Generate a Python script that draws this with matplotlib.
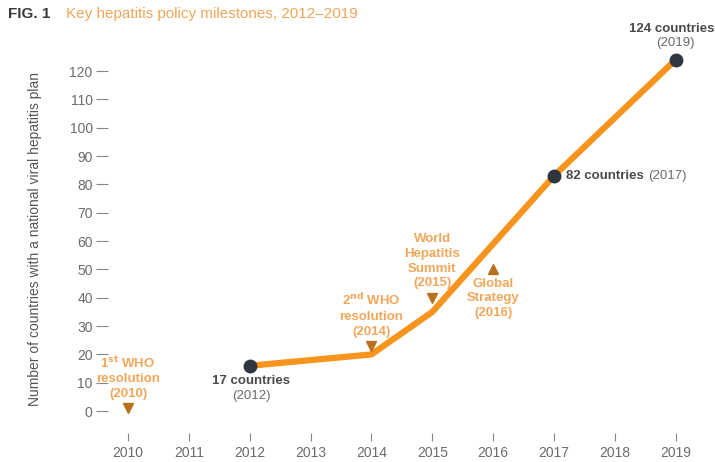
import matplotlib.pyplot as plt

plt.rcParams["font.family"] = ["Liberation Sans", "DejaVu Sans"]

# axis categories
tick_years = [2010, 2011, 2012, 2013, 2014, 2015, 2016, 2017, 2018, 2019]
y_ticks = [0, 10, 20, 30, 40, 50, 60, 70, 80, 90, 100, 110, 120]

# countries with a national plan
plan_years = [2012, 2014, 2015, 2017, 2019]
plan_countries = [16, 20, 35, 83, 124]

# highlighted data points
dot_years = [2012, 2017, 2019]
dot_countries = [16, 83, 124]
dot_bold = ["17 countries", "82 countries", "124 countries"]
dot_year_labels = ["(2012)", "(2017)", "(2019)"]

# policy milestones
milestone_years = [2010, 2014, 2015, 2016]
milestone_levels = [1, 23, 40, 50]
milestone_labels = [
    "1$^{\\mathbf{st}}$ WHO\nresolution\n(2010)",
    "2$^{\\mathbf{nd}}$ WHO\nresolution\n(2014)",
    "World\nHepatitis\nSummit\n(2015)",
    "Global\nStrategy\n(2016)",
]
milestone_up = [False, False, False, True]

ORANGE = "#F7941D"
TEXT_ORANGE = "#F2A65A"
TRI = "#B8711E"
DOT = "#2F3640"
GRAY = "#6B6B6B"

fig = plt.figure(figsize=(7.15, 4.62), dpi=100)
ax = fig.add_axes([108 / 715, 1 - 425 / 462, (700 - 108) / 715, (425 - 20) / 462])

ax.plot(plan_years, plan_countries, color=ORANGE, lw=4.5, solid_capstyle="butt",
        solid_joinstyle="miter", zorder=2)
ax.plot(dot_years, dot_countries, "o", color=DOT, ms=9, zorder=3)

for yr, lvl, lab, up in zip(milestone_years, milestone_levels, milestone_labels, milestone_up):
    ax.plot(yr, lvl, "^" if up else "v", color=TRI, ms=7, zorder=3)
    ax.annotate(lab, xy=(yr, lvl), xytext=(0, -6 if up else 6), textcoords="offset points",
                ha="center", va="top" if up else "bottom", color=TEXT_ORANGE,
                fontsize=9.5, fontweight="bold", linespacing=1.3)

# 2012
a = ax.annotate(dot_bold[0], xy=(dot_years[0], dot_countries[0]), xytext=(1, -7),
                textcoords="offset points", ha="center", va="top", color="#4A4A4A",
                fontsize=9.5, fontweight="bold")
ax.annotate(dot_year_labels[0], xy=(0.5, 0), xycoords=a, xytext=(0, -2),
            textcoords="offset points", ha="center", va="top", color=GRAY, fontsize=9.5)
# 2017
a = ax.annotate(dot_bold[1], xy=(dot_years[1], dot_countries[1]), xytext=(9, 0),
                textcoords="offset points", ha="left", va="center", color="#4A4A4A",
                fontsize=9.5, fontweight="bold")
ax.annotate(dot_year_labels[1], xy=(1, 0.5), xycoords=a, xytext=(3, 0),
            textcoords="offset points", ha="left", va="center", color=GRAY, fontsize=9.5)
# 2019
a = ax.annotate(dot_year_labels[2], xy=(dot_years[2], dot_countries[2]), xytext=(0, 8),
                textcoords="offset points", ha="center", va="bottom", color=GRAY,
                fontsize=9.5, annotation_clip=False)
ax.annotate(dot_bold[2], xy=(0.5, 1), xycoords=a, xytext=(-3, 1),
            textcoords="offset points", ha="center", va="bottom", color="#4A4A4A",
            fontsize=9.5, fontweight="bold")

ax.set_xlim(2009.67, 2019.4)
ax.set_ylim(-4.9, 138)
ax.set_xticks(tick_years)
ax.set_yticks(y_ticks)
for s in ax.spines.values():
    s.set_visible(False)
ax.spines["bottom"].set_position(("outward", 6))
ax.tick_params(axis="x", length=6, width=0.8, color="#888888", pad=3,
               labelsize=10, labelcolor=GRAY)
ax.tick_params(axis="y", length=9, width=0.8, color="#888888", pad=2,
               labelsize=10, labelcolor=GRAY)
ax.set_ylabel("Number of countries with a national viral hepatitis plan",
              fontsize=10, color="#555555")
ax.yaxis.set_label_coords(-0.112, 0.46)

fig.text(8 / 715, 1 - 14 / 462, "FIG. 1", fontsize=11, fontweight="bold",
         color="#3A3A3A", va="center")
fig.text(66 / 715, 1 - 14 / 462, "Key hepatitis policy milestones, 2012\u20132019",
         fontsize=11, color=TEXT_ORANGE, va="center")

fig.savefig("out.png", dpi=100)
